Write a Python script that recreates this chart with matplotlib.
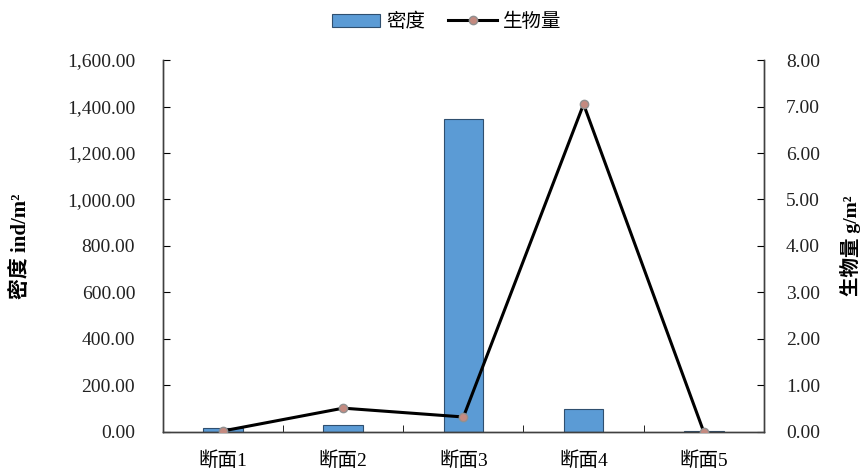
import matplotlib
matplotlib.use('Agg')
import matplotlib.pyplot as plt
from matplotlib.ticker import FuncFormatter, MultipleLocator

plt.rcParams['font.family'] = ['Liberation Serif', 'Noto Sans CJK SC']

# Data
sections = ['断面1', '断面2', '断面3', '断面4', '断面5']
density = [15, 30, 1346, 100, 2]
biomass = [0.02, 0.51, 0.32, 7.05, 0.0]

fig = plt.figure(figsize=(8.67, 4.73), dpi=100)
ax = fig.add_axes([0.188, 0.087, 0.693, 0.786])
ax2 = ax.twinx()

x = list(range(len(sections)))
bars = ax.bar(x, density, width=0.33, color='#5B9BD5', edgecolor='#2F4F6F',
              linewidth=0.8, label='密度', zorder=2)
line, = ax2.plot(x, biomass, color='black', linewidth=2.2, marker='o',
                 markersize=6, markerfacecolor='#C48A80', markeredgecolor='#909090',
                 label='生物量', zorder=3)

ax.set_xlim(-0.5, len(sections) - 0.5)
ax.set_ylim(0, 1600)
ax2.set_ylim(0, 8)
ax.yaxis.set_major_locator(MultipleLocator(200))
ax2.yaxis.set_major_locator(MultipleLocator(1))
ax.yaxis.set_major_formatter(FuncFormatter(lambda v, p: f'{v:,.2f}'))
ax2.yaxis.set_major_formatter(FuncFormatter(lambda v, p: f'{v:.2f}'))

ax.set_xticks(x)
ax.set_xticklabels(sections, fontsize=14)
ax.set_xticks([i + 0.5 for i in x[:-1]], minor=True)
ax.tick_params(axis='x', which='major', length=0, pad=14)
ax.tick_params(axis='x', which='minor', direction='in', length=5)
ax.tick_params(axis='y', direction='in', length=5, labelsize=14, pad=20,
               labelcolor='#222222')
ax2.tick_params(axis='y', direction='in', length=5, labelsize=14, pad=16,
                labelcolor='#222222')

for a in (ax, ax2):
    a.spines['top'].set_visible(False)
    for s in ('left', 'right', 'bottom'):
        a.spines[s].set_color('#404040')
        a.spines[s].set_linewidth(1.0)

ax.set_ylabel('密度 ind/m²', fontsize=15, fontweight='bold', labelpad=26)
ax2.set_ylabel('生物量 g/m²', fontsize=14, fontweight='bold', labelpad=14)

fig.legend(handles=[bars, line], labels=['密度', '生物量'], loc='upper center',
           bbox_to_anchor=(0.515, 1.01), ncol=2, frameon=False, fontsize=14,
           handlelength=2.5, columnspacing=1.2, handletextpad=0.3)

fig.savefig('out.png', dpi=100)
